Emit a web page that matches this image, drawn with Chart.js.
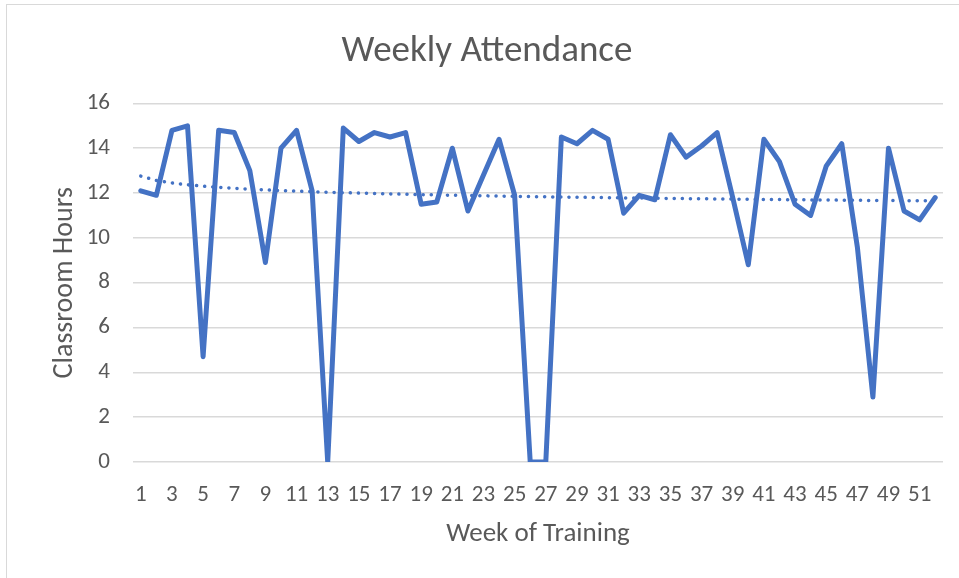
<!DOCTYPE html>
<html>
<head>
<meta charset="utf-8">
<title>Weekly Attendance</title>
<script src="https://cdn.jsdelivr.net/npm/chart.js@4.4.1/dist/chart.umd.min.js"></script>
<style>
  html, body { margin: 0; padding: 0; background: #fff; overflow: hidden; }
  #wrap { position: relative; width: 959px; height: 578px; }
  #frame { position: absolute; left: 6px; top: 4px; width: 1000px; height: 1000px;
           border-left: 1.5px solid #d9d9d9; border-top: 1.5px solid #d9d9d9; }
  canvas { position: absolute; left: 0; top: 0; }
</style>
</head>
<body>
<div id="wrap">
  <div id="frame"></div>
  <canvas id="attendanceChart" width="959" height="578"></canvas>
</div>
<script>
// semaines 1 à 52
const WEEKS = [
  1, 2, 3, 4, 5, 6, 7, 8, 9, 10, 11, 12, 13, 14, 15, 16, 17, 18, 19, 20, 21, 22, 23, 24, 25, 26,
  27, 28, 29, 30, 31, 32, 33, 34, 35, 36, 37, 38, 39, 40, 41, 42, 43, 44, 45, 46, 47, 48, 49, 50, 51, 52,
];

// heures de cours par semaine
const HOURS = [
  12.1, 11.9, 14.8, 15.0, 4.7, 14.8, 14.7, 13.0, 8.9, 14.0,
  14.8, 12.1, 0, 14.9, 14.3, 14.7, 14.5, 14.7, 11.5, 11.6,
  14.0, 11.2, 12.8, 14.4, 11.9, 0, 0, 14.5, 14.2, 14.8,
  14.4, 11.1, 11.9, 11.7, 14.6, 13.6, 14.1, 14.7, 11.8, 8.8,
  14.4, 13.4, 11.5, 11.0, 13.2, 14.2, 9.6, 2.9, 14.0, 11.2,
  10.8, 11.8,
];

const Y_MIN = 0;
const Y_MAX = 16;
const Y_STEP = 2;

const TEXT_COLOR = "#595959";
const GRID_COLOR = "#d9d9d9";
const LINE_COLOR = "#4472c4";
const FONT = "Carlito, Lato, sans-serif";

/** Courbe de tendance logarithmique (y = a + b ln x), comme Excel. */
function logTrend(xs, ys) {
  const lx = xs.map((x) => Math.log(x));
  const n = xs.length;
  const mx = lx.reduce((s, v) => s + v, 0) / n;
  const my = ys.reduce((s, v) => s + v, 0) / n;
  let sxy = 0;
  let sxx = 0;
  for (let i = 0; i < n; i++) {
    sxy += (lx[i] - mx) * (ys[i] - my);
    sxx += (lx[i] - mx) ** 2;
  }
  const b = sxy / sxx;
  const a = my - b * mx;
  return lx.map((v) => a + b * v);
}

const trend = logTrend(WEEKS, HOURS);

new Chart(document.getElementById("attendanceChart"), {
  type: "line",
  data: {
    labels: WEEKS,
    datasets: [
      {
        label: "Tendance",
        data: trend,
        borderColor: LINE_COLOR,
        borderWidth: 3.5,
        borderDash: [0.1, 8],
        borderCapStyle: "round",
        pointRadius: 0,
        fill: false,
        order: 0,
      },
      {
        label: "Classroom Hours",
        data: HOURS,
        borderColor: LINE_COLOR,
        borderWidth: 5,
        borderJoinStyle: "round",
        borderCapStyle: "round",
        pointRadius: 0,
        tension: 0,
        fill: false,
        order: 1,
      },
    ],
  },
  options: {
    responsive: false,
    animation: false,
    events: [],
    // padding gauche plus large pour centrer le titre comme dans Excel
    layout: { padding: { left: 31, right: 16, top: 0, bottom: 0 } },
    plugins: {
      legend: { display: false },
      tooltip: { enabled: false },
      title: {
        display: true,
        text: "Weekly Attendance",
        color: TEXT_COLOR,
        font: { family: FONT, size: 37, weight: "normal", lineHeight: 1.2 },
        padding: { top: 30, bottom: 29 },
      },
    },
    scales: {
      x: {
        offset: true,
        grid: { display: false, drawTicks: false },
        border: { display: false },
        ticks: {
          autoSkip: false,
          maxRotation: 0,
          color: TEXT_COLOR,
          font: { family: FONT, size: 23 },
          padding: 19,
          callback: (value, index) => (index % 2 === 0 ? WEEKS[index] : ""),
        },
        title: {
          display: true,
          text: "Week of Training",
          color: TEXT_COLOR,
          font: { family: FONT, size: 27, lineHeight: 1.2 },
          padding: { top: 0, bottom: 28 },
        },
        afterFit: (scale) => {
          scale.height = 116;
        },
      },
      y: {
        min: Y_MIN,
        max: Y_MAX,
        ticks: {
          stepSize: Y_STEP,
          color: TEXT_COLOR,
          font: { family: FONT, size: 23 },
          padding: 23,
        },
        grid: { color: GRID_COLOR, lineWidth: 1.5, drawTicks: false },
        border: { display: false },
        title: {
          display: true,
          text: "Classroom Hours",
          color: TEXT_COLOR,
          font: { family: FONT, size: 28, lineHeight: 1.2 },
          padding: { top: 17, bottom: 0 },
        },
        afterFit: (scale) => {
          scale.width = 102;
        },
      },
    },
  },
});
</script>
</body>
</html>
